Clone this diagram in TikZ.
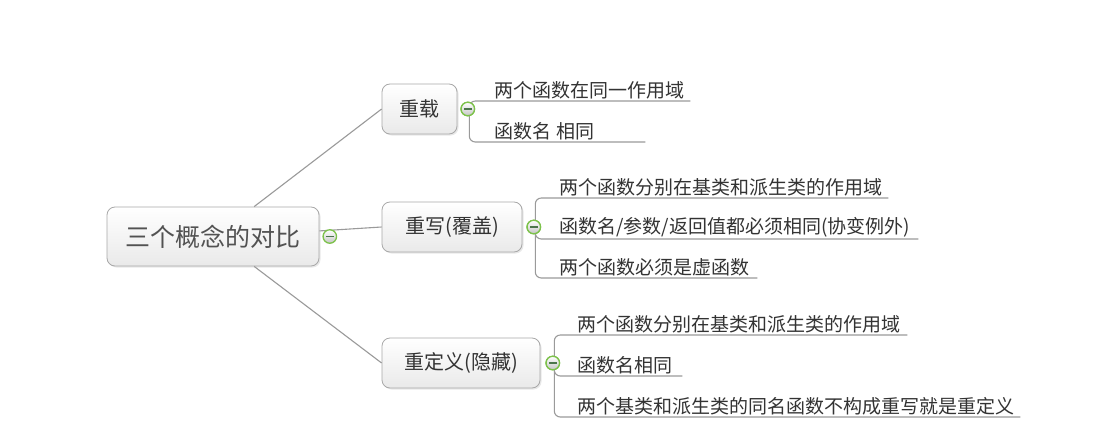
\documentclass[tikz,border=0pt]{standalone}
\usepackage{fontspec}
\newfontfamily\cjkfont{Noto Sans CJK SC}
\usetikzlibrary{positioning,shadows}
\definecolor{linegray}{HTML}{9A9A9A}
\definecolor{boxedge}{HTML}{A8A8A8}
\definecolor{foldgreen}{HTML}{7DC24B}
\definecolor{txt}{HTML}{333333}
\tikzset{
  topic/.style={draw=boxedge, line width=0.8pt, rounded corners=8pt,
    top color=white, bottom color=gray!17, text=txt, inner sep=0pt,
    drop shadow={opacity=0.18, shadow xshift=1.5pt, shadow yshift=-1.5pt},
    minimum height=50pt, font=\cjkfont\fontsize{20}{24}\selectfont},
  rootbox/.style={topic, minimum width=212pt, minimum height=59pt,
    text=txt!85, font=\cjkfont\fontsize{25}{30}\selectfont},
  fold/.style={circle, draw=foldgreen, line width=1.3pt, inner sep=0pt,
    minimum size=13.5pt, top color=white, bottom color=gray!45,
    path picture={\draw[line width=1.2pt, black!60!green!40!gray]
      ([xshift=-4pt]path picture bounding box.center) --
      ([xshift=4pt]path picture bounding box.center);}},
  link/.style={draw=linegray, line width=1.1pt},
  branch/.style={link, rounded corners=6pt},
  leaf/.style={anchor=south west, inner xsep=0pt, inner ysep=2pt,
    align=left, text=txt, font=\cjkfont\fontsize{19}{22}\selectfont}
}
\begin{document}
\begin{tikzpicture}[x=1pt, y=-1pt]
  \useasboundingbox[fill=white] (0,0) rectangle (1118,428);
  % main topics
  \node[rootbox] (root) at (213,236.5) {三个概念的对比};
  \node[topic, minimum width=75pt] (c1) at (419.5,109) {重载};
  \node[topic, minimum width=140pt] (c2) at (452,227) {重写(覆盖)};
  \node[topic, minimum width=158pt] (c3) at (461,363) {重定义(隐藏)};
  % links from the root
  \draw[link] (root.36) -- (c1.west);
  \draw[link] (root.3) -- (c2.west);
  \draw[link] (root.-36) -- (c3.west);
  % fold buttons
  \node[fold, right=3pt of root] (f0) {};
  \node[fold, right=3pt of c1] (f1) {};
  \node[fold, right=4pt of c2] (f2) {};
  \node[fold, right=5pt of c3] (f3) {};
  % subtopics
  \node[leaf, text width=196pt] (l11) at (494,101) {两个函数在同一作用域};
  \node[leaf, text width=151pt] (l12) at (494,142) {函数名\hspace{5pt}相同};
  \node[leaf, text width=329pt] (l21) at (559,198) {两个函数分别在基类和派生类的作用域};
  \node[leaf, text width=359pt] (l22) at (559,239) {函数名/参数/返回值都必须相同(协变例外)};
  \node[leaf, text width=198pt] (l23) at (559,278) {两个函数必须是虚函数};
  \node[leaf, text width=330pt] (l31) at (577,335) {两个函数分别在基类和派生类的作用域};
  \node[leaf, text width=105pt] (l32) at (577,376) {函数名相同};
  \node[leaf, text width=443pt] (l33) at (577,417) {两个基类和派生类的同名函数不构成重写就是重定义};
  % brackets
  \foreach \f/\l in {f1/l11,f1/l12,f2/l21,f2/l22,f2/l23,f3/l31,f3/l32,f3/l33}
    \draw[branch] ([xshift=1.5pt]\f.center) |- (\l.south east);
  % redraw buttons on top
  \foreach \f in {f1,f2,f3}
    \node[fold] at (\f) {};
\end{tikzpicture}
\end{document}
